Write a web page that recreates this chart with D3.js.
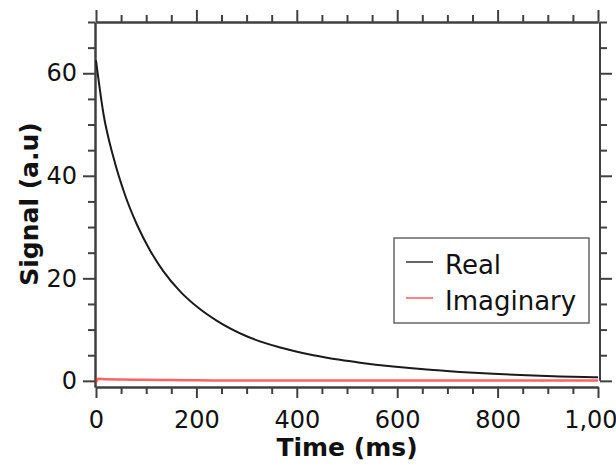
<!DOCTYPE html>
<html lang="en">
<head>
    <meta charset="UTF-8">
    <title>Signal vs Time</title>
    <script src="https://d3js.org/d3.v7.min.js"></script>
    <style>
        body { margin: 0; background: white; }
        .tick text { font-family: "DejaVu Sans", Verdana, sans-serif; font-size: 24px; fill: #111; }
        .axis path, .axis line { stroke: #404040; stroke-width: 2; }
        .title { font-family: "DejaVu Sans", Verdana, sans-serif; font-size: 25px; font-weight: bold; fill: #111; }
        .legend text { font-family: "DejaVu Sans", Verdana, sans-serif; font-size: 26px; fill: #111; }
    </style>
</head>
<body>
    <svg width="616" height="466"></svg>
    <script>
        // datos
        var realTime = [0, 15, 35, 58, 81, 108, 134, 168, 207, 241, 300, 367, 433, 486, 526, 592, 659, 725, 791, 858, 924, 990, 1000];
        var realSignal = [62.5, 52.0, 43.5, 36.2, 30.6, 25.4, 21.4, 17.4, 14.0, 11.7, 8.7, 6.5, 5.0, 4.1, 3.55, 2.8, 2.2, 1.75, 1.38, 1.07, 0.86, 0.72, 0.7];
        var imagTime = [0, 4, 20, 50, 100, 150, 200, 300, 400, 500, 600, 700, 800, 900, 1000];
        var imagSignal = [-0.3, 0.4, 0.3, 0.25, 0.2, 0.15, 0.1, 0.05, 0.05, 0.05, 0.05, 0.05, 0.05, 0.05, 0.05];
        var xTicks = [0, 200, 400, 600, 800, 1000];
        var yTicks = [0, 20, 40, 60];
        var seriesNames = ["Real", "Imaginary"];
        var seriesColors = ["#1a1a1a", "#ff2020"];
        var legendColors = ["#666666", "#ff8080"];

        var svg = d3.select("svg");

        var x = d3.scaleLinear().domain([0, 1000]).range([96, 598]);
        var y = d3.scaleLinear().domain([-1.2, 70]).range([387, 22]);

        var xMinor = d3.range(50, 1001, 50).filter(function(d) { return d % 200 !== 0; });
        var yMinor = d3.range(5, 71, 5).filter(function(d) { return d % 20 !== 0; });

        // eje inferior
        svg.append("g").attr("class", "axis").attr("transform", "translate(0,387)")
            .call(d3.axisBottom(x).tickValues(xTicks).tickSize(11).tickSizeOuter(0).tickPadding(13).tickFormat(d3.format(",")));
        svg.append("g").attr("class", "axis").attr("transform", "translate(0,387)")
            .call(d3.axisBottom(x).tickValues(xMinor).tickSize(7).tickSizeOuter(0).tickFormat(""));

        // eje superior
        svg.append("g").attr("class", "axis").attr("transform", "translate(0,22)")
            .call(d3.axisTop(x).tickValues(xTicks).tickSize(12).tickSizeOuter(0).tickFormat(""));
        svg.append("g").attr("class", "axis").attr("transform", "translate(0,22)")
            .call(d3.axisTop(x).tickValues(xMinor).tickSize(7).tickSizeOuter(0).tickFormat(""));

        // eje izquierdo
        svg.append("g").attr("class", "axis").attr("transform", "translate(95,0)")
            .call(d3.axisLeft(y).tickValues(yTicks).tickSize(12).tickSizeOuter(0).tickPadding(6));
        svg.append("g").attr("class", "axis").attr("transform", "translate(95,0)")
            .call(d3.axisLeft(y).tickValues(yMinor).tickSize(7).tickSizeOuter(0).tickFormat(""));

        // eje derecho
        var right = svg.append("g").attr("class", "axis").attr("transform", "translate(600,0)");
        right.call(d3.axisRight(y).tickValues(yTicks).tickSize(12).tickSizeOuter(0).tickFormat(""));
        right.select(".domain").remove();
        right.append("line").attr("y1", y(0)).attr("y2", y(70)).attr("stroke", "#404040").attr("stroke-width", 2);
        svg.append("g").attr("class", "axis").attr("transform", "translate(600,0)")
            .call(d3.axisRight(y).tickValues(yMinor).tickSize(7).tickSizeOuter(0).tickFormat(""))
            .select(".domain").remove();

        // lineas
        var line = d3.line()
            .x(function(d) { return x(d[0]); })
            .y(function(d) { return y(d[1]); })
            .curve(d3.curveMonotoneX);

        svg.append("path")
            .datum(d3.zip(imagTime, imagSignal))
            .attr("d", line)
            .attr("fill", "none")
            .attr("stroke", seriesColors[1])
            .attr("stroke-width", 2.5)
            .attr("opacity", 0.7);

        svg.append("path")
            .datum(d3.zip(realTime, realSignal))
            .attr("d", line)
            .attr("fill", "none")
            .attr("stroke", seriesColors[0])
            .attr("stroke-width", 2);

        // titulos de ejes
        svg.append("text").attr("class", "title")
            .attr("x", 347).attr("y", 456).attr("text-anchor", "middle")
            .text("Time (ms)");
        svg.append("text").attr("class", "title")
            .attr("transform", "translate(38,204) rotate(-90)").attr("text-anchor", "middle")
            .text("Signal (a.u)");

        // leyenda
        var legend = svg.append("g").attr("class", "legend");
        legend.append("rect")
            .attr("x", 394).attr("y", 238).attr("width", 195).attr("height", 85)
            .attr("fill", "white").attr("stroke", "#666").attr("stroke-width", 1.5);
        var items = legend.selectAll(".item")
            .data(seriesNames)
            .enter().append("g")
            .attr("class", "item")
            .attr("transform", function(d, i) { return "translate(0," + (i * 36) + ")"; });
        items.append("line")
            .attr("x1", 406).attr("x2", 433).attr("y1", 262).attr("y2", 262)
            .attr("stroke", function(d, i) { return legendColors[i]; })
            .attr("stroke-width", 2);
        items.append("text")
            .attr("x", 445).attr("y", 274)
            .text(function(d) { return d; });
    </script>
</body>
</html>
